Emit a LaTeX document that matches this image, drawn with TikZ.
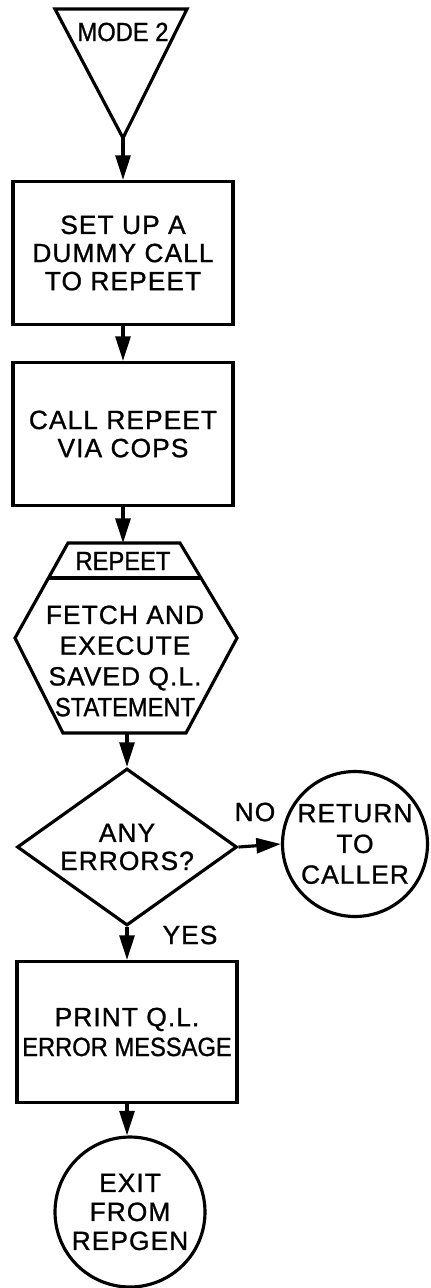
\documentclass[tikz,border=0pt]{standalone}
\usepackage{fontspec}
\setmainfont{Liberation Sans}[LetterSpace=4, FakeBold=1]
\newfontfamily\tightfont{Liberation Sans}[FakeStretch=0.9, FakeBold=1]
\usetikzlibrary{shapes.geometric}
\usetikzlibrary{arrows.meta}

\tikzset{
  every node/.style={font=\fontsize{15}{16}\selectfont, align=center, inner sep=0pt},
  stepbox/.style={draw, rectangle, minimum width=4.4cm, minimum height=2.86cm},
  endcircle/.style={draw, circle, minimum size=2.9cm},
  testbox/.style={draw, diamond, aspect=1.4, minimum width=4.4cm, minimum height=3.14cm},
  flow/.style={-{Triangle[length=14pt,width=8.5pt]}},
}

\begin{document}
\begin{tikzpicture}[x=0.02cm, y=-0.02cm, line width=1.8pt]
  \useasboundingbox (0,0) rectangle (430,1288);

  % Entry triangle
  \draw (55,9) -- (187,9) -- (123,138) -- cycle;
  \coordinate (apex) at (123,138);
  \node (mode) at (123,32) {\tightfont MODE 2};

  % Boxes
  \node[stepbox] (setup) at (123,253) {SET UP A\\DUMMY CALL\\TO REPEET};
  \node[stepbox] (callrep) at (123,434) {CALL REPEET\\VIA COPS};

  % REPEET hexagon
  \draw (68,543) -- (180,543) -- (237,638) -- (186,733)
        -- (63,733) -- (15,638) -- cycle;
  \draw (49,578) -- (200,578);
  \coordinate (hextop) at (123,543);
  \coordinate (hexbot) at (127,733);
  \node (repeet) at (123,561) {\tightfont REPEET};
  \node[font=\fontsize{15}{17.5}\selectfont] (fetch) at (125,661)
    {FETCH AND\\EXECUTE\\SAVED Q.L.\\{\tightfont STATEMENT}};

  % Decision
  \node[testbox] (errors) at (127,847) {ANY\\ERRORS?};
  \node[endcircle, font=\fontsize{15}{17.5}\selectfont] (return) at (355,844)
    {RETURN\\TO\\CALLER};
  \node (no) at (255,812) {NO};
  \node (yes) at (190,935) {YES};

  \node[stepbox, minimum height=2.82cm, font=\fontsize{15}{17}\selectfont] (printerr)
    at (127,1032) {PRINT Q.L.\\{\tightfont ERROR MESSAGE}};
  \node[endcircle, minimum size=3cm, font=\fontsize{15}{16.5}\selectfont] (exit)
    at (130,1212) {EXIT\\FROM\\REPGEN};

  % Flow lines
  \draw[flow] (apex) -- (setup.north);
  \draw[flow] (setup.south) -- (callrep.north);
  \draw[flow] (callrep.south) -- (hextop);
  \draw[flow] (hexbot) -- (errors.north);
  \draw[flow] (errors.east) -- (return.west);
  \draw[flow] (errors.south) -- (printerr.north);
  \draw[flow] (printerr.south) -- (printerr.south |- exit.north);
\end{tikzpicture}
\end{document}
